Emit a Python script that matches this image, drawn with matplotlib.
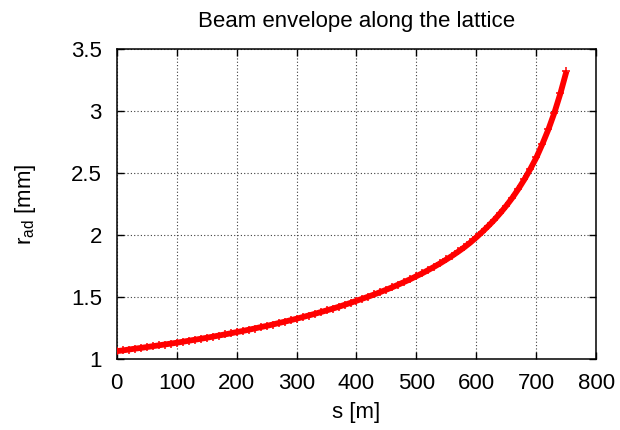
import numpy as np
import matplotlib.pyplot as plt

plt.rcParams['font.family'] = ['Liberation Sans', 'DejaVu Sans']

# Beam envelope sampled every 10 m along the lattice
s = np.arange(0, 760, 10)
r_ad = [1.060, 1.066, 1.073, 1.080, 1.086, 1.093, 1.100, 1.107, 1.114, 1.121,
        1.128, 1.136, 1.144, 1.152, 1.160, 1.168, 1.177, 1.186, 1.195, 1.204,
        1.214, 1.223, 1.233, 1.243, 1.254, 1.264, 1.275, 1.287, 1.298, 1.310,
        1.322, 1.335, 1.348, 1.361, 1.375, 1.389, 1.403, 1.418, 1.434, 1.450,
        1.467, 1.484, 1.501, 1.519, 1.538, 1.557, 1.577, 1.598, 1.620, 1.642,
        1.666, 1.690, 1.716, 1.743, 1.771, 1.801, 1.832, 1.865, 1.900, 1.938,
        1.980, 2.025, 2.072, 2.122, 2.177, 2.236, 2.300, 2.371, 2.448, 2.533,
        2.625, 2.734, 2.852, 2.987, 3.143, 3.320]

xticks = [0, 100, 200, 300, 400, 500, 600, 700, 800]
yticks = [1, 1.5, 2, 2.5, 3, 3.5]
yticklabels = ['1', '1.5', '2', '2.5', '3', '3.5']

fig = plt.figure(figsize=(6.2, 4.3), dpi=100)
ax = fig.add_axes([0.188, 0.166, 0.774, 0.72])

ax.plot(s, r_ad, color='#ff0000', lw=4.2, solid_capstyle='butt',
        marker='+', markersize=6, markeredgewidth=1.1, zorder=3)

ax.set_xlim(0, 800)
ax.set_ylim(1, 3.5)
ax.set_xticks(xticks)
ax.set_yticks(yticks)
ax.set_yticklabels(yticklabels)
ax.tick_params(direction='in', length=5, width=1, top=True, right=True,
               labelsize=16)
ax.tick_params(axis='x', pad=10)
ax.tick_params(axis='y', pad=10.5)
ax.grid(True, color='#404040', linestyle=(0, (1, 2)), linewidth=0.8)
for sp in ax.spines.values():
    sp.set_linewidth(1.1)

ax.set_title('Beam envelope along the lattice', fontsize=16, pad=16)
ax.set_xlabel('s [m]', fontsize=16, labelpad=6)
ax.set_ylabel(r'r$_{\mathregular{ad}}$ [mm]', fontsize=16, labelpad=24)

fig.savefig('out.png', dpi=100)
